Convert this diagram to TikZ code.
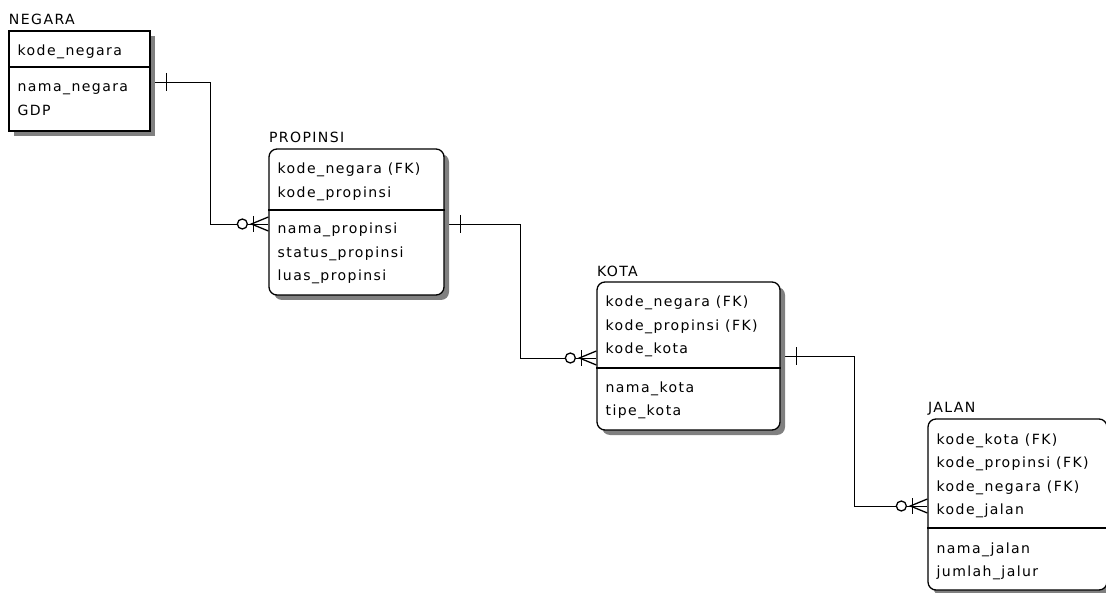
\documentclass[tikz,border=0pt]{standalone}
\usepackage{fontspec}
\setmainfont{DejaVu Sans}
\newfontfamily\erfont[LetterSpace=10]{DejaVu Sans}
\usetikzlibrary{calc,fit,shadows,backgrounds}
% one / zero-or-many ends of a relationship line
\newcommand{\onetick}[1]{\draw (#1) ++(16,-9) -- ++(0,18);}
\newcommand{\zeromany}[1]{%
  \draw (#1) ++(-15,-8) -- ++(0,16);
  \draw (#1) ++(0,-7) -- ++(-17,7) -- ++(17,7);
  \draw[fill=white] (#1) ++(-26,0) circle (5);}

\begin{document}
\begin{tikzpicture}[x=0.03cm,y=-0.03cm,line width=1.1pt,
    ent/.style={draw,fill=white,inner sep=0pt,
      drop shadow={shadow xshift=0.15cm,shadow yshift=-0.15cm,fill=black!50,opacity=1}},
    dep/.style={ent,rounded corners=2.4mm},
    title/.style={anchor=base west,inner sep=0pt,font=\erfont\fontsize{12}{14}\selectfont},
    attr/.style={title}]
  \useasboundingbox (0,0) rectangle (1106,593);
  \clip (0,0) rectangle (1106,593);

  % entities
  \node[ent,fit={(9,31) (150,131)}] (negara) {};
  \node[dep,fit={(269,149) (444,295)}] (propinsi) {};
  \node[dep,fit={(597,282) (780,430)}] (kota) {};
  \node[dep,fit={(928,419) (1107,590)}] (jalan) {};

  \node[title] (negaraT) at (negara.north west) [yshift=0.18cm] {NEGARA};
  \node[title] (propinsiT) at (propinsi.north west) [yshift=0.18cm] {PROPINSI};
  \node[title] (kotaT) at (kota.north west) [yshift=0.15cm] {KOTA};
  \node[title] (jalanT) at (jalan.north west) [yshift=0.18cm] {JALAN};

  \draw (negara.west |- 0,67) -- (negara.east |- 0,67);
  \draw (propinsi.west |- 0,210) -- (propinsi.east |- 0,210);
  \draw (kota.west |- 0,368) -- (kota.east |- 0,368);
  \draw (jalan.west |- 0,528) -- (jalan.east |- 0,528);

  % attributes
  \node[attr] (neg-k1) at (17,56) {kode\_negara};
  \foreach \t [count=\i] in {nama\_negara,GDP}
    \node[attr] (neg-a\i) at (17,{68.5+23.5*\i}) {\t};

  \foreach \t [count=\i] in {kode\_negara (FK),kode\_propinsi}
    \node[attr] (prop-k\i) at (277,{150.5+23.5*\i}) {\t};
  \foreach \t [count=\i] in {nama\_propinsi,status\_propinsi,luas\_propinsi}
    \node[attr] (prop-a\i) at (277,{210.5+23.5*\i}) {\t};

  \foreach \t [count=\i] in {kode\_negara (FK),kode\_propinsi (FK),kode\_kota}
    \node[attr] (kota-k\i) at (605,{283.5+23.5*\i}) {\t};
  \foreach \t [count=\i] in {nama\_kota,tipe\_kota}
    \node[attr] (kota-a\i) at (605,{368.5+23.5*\i}) {\t};

  \foreach \t [count=\i] in {kode\_kota (FK),kode\_propinsi (FK),kode\_negara (FK),kode\_jalan}
    \node[attr] (jalan-k\i) at (936,{420.5+23.5*\i}) {\t};
  \foreach \t [count=\i] in {nama\_jalan,jumlah\_jalur}
    \node[attr] (jalan-a\i) at (936,{529.5+23.5*\i}) {\t};

  % relationships
  \coordinate (r1a) at (negara.east |- 0,82);
  \coordinate (r1b) at (propinsi.west |- 0,224);
  \coordinate (r2a) at (propinsi.east |- 0,224);
  \coordinate (r2b) at (kota.west |- 0,358);
  \coordinate (r3a) at (kota.east |- 0,356);
  \coordinate (r3b) at (jalan.west |- 0,506);
  \begin{scope}[on background layer]
    \draw (r1a) -- (210,82) |- (r1b);
    \draw (r2a) -- (520,224) |- (r2b);
    \draw (r3a) -- (854,356) |- (r3b);
  \end{scope}
  \onetick{r1a} \zeromany{r1b}
  \onetick{r2a} \zeromany{r2b}
  \onetick{r3a} \zeromany{r3b}
\end{tikzpicture}
\end{document}
